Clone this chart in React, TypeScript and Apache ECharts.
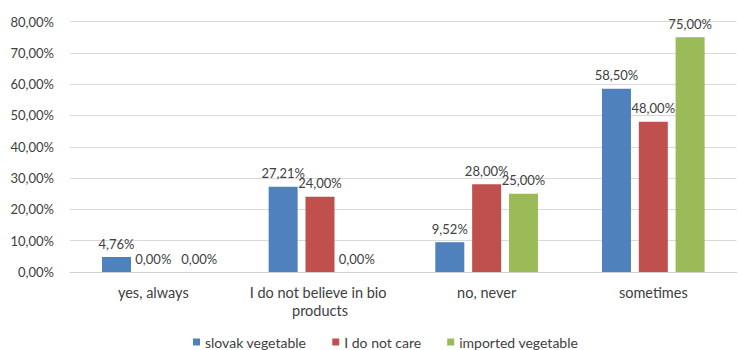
import React, { useEffect, useRef } from "react";
import * as echarts from "echarts";

const categories = ["yes, always", "I do not believe in bio products", "no, never", "sometimes"];
const seriesNames = ["slovak vegetable", "I do not care", "imported vegetable"];
const slovak = [4.76, 27.21, 9.52, 58.5];
const notCare = [0, 24, 28, 48];
const imported = [0, 0, 25, 75];
const colors = ["#4f81bd", "#c0504d", "#9bbb59"];

const fmt = (v: number) => `${v.toFixed(2).replace(".", ",")}%`;
const FONT = "Lato";

export default function App() {
  const ref = useRef<HTMLDivElement>(null);
  useEffect(() => {
    if (!ref.current) return;
    const chart = echarts.init(ref.current, undefined, { renderer: "svg" });
    const values = [slovak, notCare, imported];
    chart.setOption({
      animation: false,
      textStyle: { fontFamily: FONT },
      grid: { left: 70, top: 21.5, width: 673, height: 250.5, containLabel: false },
      legend: {
        bottom: -4,
        left: 188,
        icon: "rect",
        itemWidth: 7,
        itemHeight: 7,
        itemGap: 26,
        textStyle: { color: "#404040", fontSize: 14, fontFamily: FONT },
        data: seriesNames,
      },
      xAxis: {
        type: "category",
        data: categories,
        axisLine: { lineStyle: { color: "#d0d0d0", width: 1 } },
        axisTick: { show: false },
        axisLabel: {
          interval: 0,
          color: "#404040",
          fontSize: 14.5,
          fontFamily: FONT,
          margin: 11,
          width: 165,
          overflow: "break",
          lineHeight: 18,
        },
      },
      yAxis: {
        type: "value",
        min: 0,
        max: 80,
        interval: 10,
        axisLine: { show: false },
        axisTick: { show: false },
        splitLine: { lineStyle: { color: "#d9d9d9", width: 1 } },
        axisLabel: {
          color: "#404040",
          fontSize: 13,
          fontFamily: FONT,
          margin: 16,
          formatter: (v: number) => fmt(v),
        },
      },
      series: seriesNames.map((name, i) => ({
        name,
        type: "bar",
        data: values[i].map((v, j) =>
          i === 2 && j === 0 ? { value: v, label: { offset: [9, 0] } } : v
        ),
        barWidth: 29,
        barGap: "27%",
        itemStyle: { color: colors[i] },
        label: {
          show: true,
          position: "top",
          distance: 7,
          color: "#404040",
          fontSize: 13,
          fontFamily: FONT,
          formatter: (p: any) => fmt(p.value),
        },
      })),
    });
    return () => chart.dispose();
  }, []);
  return (
    <div
      ref={ref}
      style={{ position: "absolute", top: 0, left: 0, width: 738, height: 350, overflow: "hidden" }}
    />
  );
}
